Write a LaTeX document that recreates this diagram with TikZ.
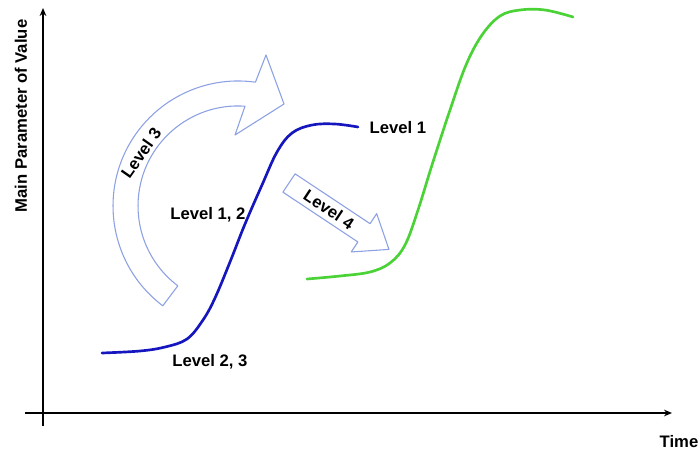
\documentclass[tikz,border=0pt]{standalone}
\usepackage{fontspec}
\setmainfont{Liberation Sans}
\usetikzlibrary{arrows.meta}
\definecolor{arrowblue}{RGB}{140,160,228}
\definecolor{curveblue}{RGB}{22,22,190}
\definecolor{curvegreen}{RGB}{75,210,55}
\tikzset{
  lbl/.style={font=\fontsize{12.5}{15}\selectfont\bfseries, inner sep=1pt},
  axisline/.style={line width=1.5pt, -{Stealth[length=6pt,width=5pt]}},
  blockarrow/.style={draw=arrowblue, line width=0.8pt, fill=white, line join=round},
  bluecurve/.style={draw=curveblue, line width=2pt, line cap=round},
  greencurve/.style={draw=curvegreen, line width=2pt, line cap=round}
}
\begin{document}
\begin{tikzpicture}[x=0.75pt,y=-0.75pt]
\useasboundingbox (0,0) rectangle (699,450);
% axes
\coordinate (ybot) at (43,426);
\coordinate (ytop) at (43,8);
\coordinate (xleft) at (25,413);
\coordinate (xright) at (672,413);
\draw[axisline] (ybot) -- (ytop);
\draw[axisline] (xleft) -- (xright);
\node[lbl, rotate=90] (ylab) at (21,116) {Main Parameter of Value};
\node[lbl] (tlab) at (679,442) {Time};
% Level 3 curved arrow
\draw[blockarrow] (162.8,305.8) arc[start angle=127,end angle=278,radius=125]
  -- (266,55) -- (284,104) -- (235,135) -- (245,106.2)
  arc[start angle=274,end angle=127,radius=100] -- cycle;
\node[lbl, rotate=55] (l3) at (141,153) {Level 3};
% Level 4 straight arrow
\begin{scope}[shift={(289,183)}, rotate=-33.6]
\draw[blockarrow] (0,-11) -- (90,-11) -- (90,-23) -- (120,0) -- (90,23) -- (90,11) -- (0,11) -- cycle;
\node[lbl, rotate=-33.6] (l4) at (48,0) {Level 4};
\end{scope}
% blue curve
\draw[bluecurve] plot[smooth, tension=0.6] coordinates {(102,353) (140,351) (165,347) (187,339) (203,320) (215,298) (230,262) (245,224) (262,185) (277,152) (292,133) (312,125) (335,124) (358,127)};
% green curve
\draw[greencurve] plot[smooth, tension=0.6] coordinates {(307,279) (340,276) (370,272) (390,263) (405,245) (418,210) (432,165) (450,110) (466,65) (482,35) (500,16) (520,10) (545,10) (573,17)};
% labels
\node[lbl] (l1) at (398,128) {Level 1};
\node[lbl] (l12) at (208,215) {Level 1, 2};
\node[lbl] (l23) at (210,362) {Level 2, 3};
\end{tikzpicture}
\end{document}
